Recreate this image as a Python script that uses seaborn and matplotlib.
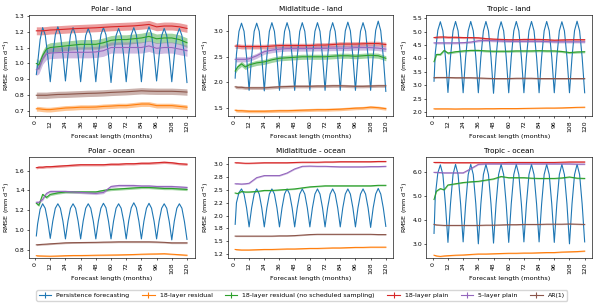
import numpy as np
import pandas as pd
import matplotlib
matplotlib.use("Agg")
import matplotlib.pyplot as plt
from matplotlib.ticker import MultipleLocator, FormatStrFormatter
import seaborn as sns

# x positions
persist_months = np.r_[1, np.arange(2, 121, 2)]
months = [1, 3, 6, 9, 12, 18, 24, 30, 36, 42, 48, 54, 60, 66, 72, 78, 84, 90, 96, 102, 108, 114, 120]

labels = ["Persistence forecasting", "18-layer residual",
          "18-layer residual (no scheduled sampling)", "18-layer plain",
          "5-layer plain", "AR(1)"]
titles = ["Polar - land", "Midlatitude - land", "Tropic - land",
          "Polar - ocean", "Midlatitude - ocean", "Tropic - ocean"]

# persistence forecasting, one list per panel
persist_polar_land = [
    0.93,
    1.00, 1.15, 1.225, 1.18, 1.05, 0.885,
    1.05, 1.18, 1.23, 1.18, 1.055, 0.89,
    1.055, 1.18, 1.225, 1.175, 1.05, 0.885,
    1.05, 1.175, 1.22, 1.175, 1.05, 0.885,
    1.055, 1.18, 1.225, 1.18, 1.05, 0.88,
    1.05, 1.175, 1.22, 1.175, 1.05, 0.885,
    1.055, 1.18, 1.225, 1.18, 1.055, 0.885,
    1.06, 1.185, 1.23, 1.185, 1.055, 0.89,
    1.05, 1.175, 1.22, 1.175, 1.05, 0.885,
    1.05, 1.175, 1.22, 1.175, 1.05, 0.88]
persist_mid_land = [
    2.08,
    2.55, 3.00, 3.16, 3.00, 2.50, 1.84,
    2.50, 3.00, 3.16, 3.00, 2.50, 1.83,
    2.50, 3.00, 3.17, 3.00, 2.50, 1.84,
    2.50, 3.00, 3.17, 3.00, 2.50, 1.84,
    2.50, 3.00, 3.17, 3.00, 2.50, 1.84,
    2.50, 3.00, 3.17, 3.00, 2.50, 1.84,
    2.50, 3.00, 3.17, 3.00, 2.50, 1.84,
    2.50, 3.01, 3.18, 3.01, 2.50, 1.84,
    2.50, 3.00, 3.17, 3.00, 2.50, 1.84,
    2.51, 3.02, 3.20, 3.01, 2.50, 1.82]
persist_tropic_land = [
    3.15,
    4.20, 5.05, 5.37, 5.03, 4.05, 2.73,
    4.05, 5.03, 5.38, 5.03, 4.05, 2.72,
    4.05, 5.03, 5.38, 5.03, 4.05, 2.72,
    4.05, 5.03, 5.38, 5.03, 4.05, 2.70,
    4.05, 5.03, 5.37, 5.03, 4.05, 2.72,
    4.05, 5.03, 5.38, 5.03, 4.05, 2.72,
    4.05, 5.03, 5.38, 5.03, 4.05, 2.72,
    4.05, 5.03, 5.38, 5.03, 4.05, 2.72,
    4.05, 5.03, 5.37, 5.03, 4.05, 2.72,
    4.05, 5.04, 5.39, 5.03, 4.05, 2.72]
persist_polar_ocean = [
    0.94,
    1.06, 1.21, 1.265, 1.22, 1.09, 0.915,
    1.09, 1.22, 1.265, 1.22, 1.09, 0.91,
    1.09, 1.22, 1.265, 1.22, 1.09, 0.91,
    1.09, 1.22, 1.265, 1.22, 1.09, 0.91,
    1.09, 1.22, 1.27, 1.225, 1.09, 0.91,
    1.09, 1.22, 1.265, 1.22, 1.09, 0.91,
    1.095, 1.225, 1.275, 1.225, 1.09, 0.91,
    1.09, 1.22, 1.27, 1.22, 1.09, 0.91,
    1.09, 1.22, 1.265, 1.22, 1.085, 0.90,
    1.09, 1.22, 1.265, 1.22, 1.085, 0.905]
persist_mid_ocean = [
    1.83,
    2.25, 2.45, 2.52, 2.42, 2.15, 1.78,
    2.15, 2.42, 2.52, 2.42, 2.15, 1.78,
    2.15, 2.42, 2.52, 2.42, 2.15, 1.78,
    2.15, 2.42, 2.52, 2.42, 2.15, 1.78,
    2.15, 2.42, 2.52, 2.42, 2.15, 1.78,
    2.15, 2.42, 2.52, 2.42, 2.15, 1.78,
    2.15, 2.42, 2.52, 2.42, 2.15, 1.78,
    2.15, 2.42, 2.52, 2.42, 2.15, 1.78,
    2.15, 2.42, 2.52, 2.42, 2.15, 1.77,
    2.15, 2.42, 2.53, 2.42, 2.15, 1.79]
persist_tropic_ocean = [
    3.45,
    5.00, 5.95, 6.28, 5.88, 4.67, 3.08,
    4.67, 5.88, 6.30, 5.88, 4.67, 3.10,
    4.67, 5.88, 6.30, 5.88, 4.67, 3.02,
    4.67, 5.88, 6.30, 5.88, 4.67, 3.05,
    4.67, 5.88, 6.30, 5.88, 4.67, 3.08,
    4.67, 5.88, 6.30, 5.88, 4.67, 3.10,
    4.67, 5.88, 6.30, 5.88, 4.67, 3.10,
    4.67, 5.88, 6.30, 5.88, 4.67, 3.08,
    4.67, 5.88, 6.30, 5.88, 4.67, 3.02,
    4.67, 5.88, 6.30, 5.88, 4.67, 3.10]

# model curves: orange, green, red, purple, brown
polar_land = [
    [0.715, 0.715, 0.712, 0.71, 0.71, 0.715, 0.72, 0.722, 0.725, 0.725, 0.726, 0.73,
     0.732, 0.735, 0.735, 0.74, 0.745, 0.745, 0.735, 0.735, 0.735, 0.73, 0.725],
    [1.00, 0.99, 1.05, 1.09, 1.10, 1.105, 1.11, 1.115, 1.12, 1.12, 1.12, 1.13,
     1.145, 1.15, 1.15, 1.155, 1.16, 1.17, 1.155, 1.16, 1.16, 1.15, 1.13],
    [1.205, 1.205, 1.205, 1.207, 1.21, 1.212, 1.215, 1.218, 1.22, 1.222, 1.224, 1.227,
     1.23, 1.232, 1.234, 1.236, 1.24, 1.245, 1.23, 1.235, 1.235, 1.23, 1.22],
    [0.96, 0.97, 1.03, 1.06, 1.065, 1.068, 1.07, 1.07, 1.07, 1.07, 1.072, 1.08,
     1.10, 1.10, 1.10, 1.10, 1.10, 1.11, 1.095, 1.10, 1.10, 1.09, 1.08],
    [0.80, 0.80, 0.80, 0.80, 0.802, 0.805, 0.806, 0.808, 0.81, 0.812, 0.813, 0.815,
     0.818, 0.82, 0.822, 0.825, 0.828, 0.826, 0.825, 0.825, 0.825, 0.823, 0.82],
]
mid_land = [
    [1.45, 1.44, 1.44, 1.435, 1.43, 1.43, 1.43, 1.435, 1.44, 1.44, 1.445, 1.45,
     1.455, 1.46, 1.46, 1.465, 1.47, 1.48, 1.49, 1.495, 1.51, 1.50, 1.48],
    [2.22, 2.30, 2.36, 2.30, 2.34, 2.38, 2.40, 2.44, 2.47, 2.48, 2.49, 2.50,
     2.50, 2.50, 2.50, 2.51, 2.52, 2.52, 2.51, 2.52, 2.53, 2.52, 2.47],
    [2.71, 2.71, 2.70, 2.70, 2.70, 2.70, 2.70, 2.71, 2.72, 2.72, 2.72, 2.72,
     2.72, 2.73, 2.73, 2.74, 2.75, 2.75, 2.75, 2.755, 2.76, 2.76, 2.74],
    [2.45, 2.45, 2.45, 2.45, 2.46, 2.52, 2.60, 2.63, 2.65, 2.66, 2.66, 2.66,
     2.66, 2.665, 2.665, 2.67, 2.67, 2.67, 2.68, 2.68, 2.68, 2.67, 2.65],
    [1.91, 1.90, 1.90, 1.89, 1.89, 1.89, 1.89, 1.90, 1.91, 1.915, 1.92, 1.92,
     1.92, 1.925, 1.925, 1.93, 1.93, 1.925, 1.92, 1.92, 1.925, 1.93, 1.93],
]
tropic_land = [
    [2.12, 2.12, 2.12, 2.12, 2.12, 2.115, 2.12, 2.12, 2.12, 2.125, 2.125, 2.13,
     2.13, 2.13, 2.135, 2.14, 2.145, 2.15, 2.15, 2.155, 2.165, 2.175, 2.18],
    [3.88, 4.15, 4.15, 4.30, 4.20, 4.25, 4.28, 4.30, 4.30, 4.28, 4.27, 4.27,
     4.27, 4.28, 4.28, 4.28, 4.29, 4.28, 4.28, 4.26, 4.22, 4.24, 4.25],
    [4.78, 4.79, 4.80, 4.80, 4.79, 4.79, 4.78, 4.78, 4.77, 4.74, 4.72, 4.71,
     4.70, 4.70, 4.71, 4.71, 4.71, 4.70, 4.68, 4.69, 4.70, 4.70, 4.70],
    [4.58, 4.58, 4.58, 4.58, 4.58, 4.58, 4.59, 4.61, 4.66, 4.67, 4.66, 4.65,
     4.64, 4.64, 4.64, 4.64, 4.64, 4.63, 4.62, 4.62, 4.62, 4.62, 4.62],
    [3.28, 3.29, 3.29, 3.29, 3.29, 3.28, 3.28, 3.28, 3.27, 3.26, 3.25, 3.25,
     3.25, 3.26, 3.26, 3.26, 3.25, 3.25, 3.25, 3.25, 3.25, 3.25, 3.25],
]
polar_ocean = [
    [0.74, 0.738, 0.737, 0.736, 0.735, 0.737, 0.74, 0.742, 0.742, 0.743, 0.745, 0.746,
     0.747, 0.748, 0.75, 0.752, 0.755, 0.757, 0.758, 0.76, 0.755, 0.75, 0.745],
    [1.27, 1.25, 1.36, 1.33, 1.36, 1.375, 1.385, 1.385, 1.385, 1.385, 1.385, 1.40,
     1.41, 1.415, 1.42, 1.425, 1.43, 1.43, 1.425, 1.42, 1.42, 1.415, 1.41],
    [1.63, 1.635, 1.635, 1.64, 1.64, 1.645, 1.65, 1.655, 1.66, 1.66, 1.66, 1.66,
     1.665, 1.665, 1.67, 1.67, 1.675, 1.675, 1.68, 1.685, 1.68, 1.67, 1.665],
    [1.28, 1.28, 1.31, 1.37, 1.39, 1.39, 1.39, 1.385, 1.38, 1.375, 1.37, 1.38,
     1.44, 1.45, 1.45, 1.45, 1.445, 1.445, 1.44, 1.44, 1.44, 1.435, 1.43],
    [0.85, 0.852, 0.855, 0.857, 0.86, 0.865, 0.87, 0.872, 0.873, 0.874, 0.875, 0.877,
     0.878, 0.88, 0.88, 0.88, 0.88, 0.88, 0.878, 0.875, 0.87, 0.87, 0.87],
]
mid_ocean = [
    [1.34, 1.335, 1.33, 1.33, 1.33, 1.335, 1.34, 1.34, 1.345, 1.35, 1.35, 1.355,
     1.36, 1.36, 1.365, 1.37, 1.37, 1.375, 1.38, 1.38, 1.385, 1.385, 1.385],
    [2.44, 2.43, 2.47, 2.46, 2.46, 2.47, 2.49, 2.49, 2.50, 2.51, 2.52, 2.54,
     2.56, 2.57, 2.58, 2.58, 2.58, 2.58, 2.58, 2.58, 2.58, 2.59, 2.59],
    [3.03, 3.03, 3.025, 3.02, 3.02, 3.025, 3.03, 3.03, 3.03, 3.03, 3.035, 3.04,
     3.04, 3.04, 3.045, 3.045, 3.05, 3.05, 3.05, 3.05, 3.05, 3.055, 3.055],
    [2.62, 2.62, 2.615, 2.62, 2.63, 2.74, 2.78, 2.78, 2.78, 2.83, 2.91, 2.96,
     2.965, 2.96, 2.96, 2.955, 2.95, 2.95, 2.95, 2.95, 2.955, 2.955, 2.96],
    [1.60, 1.60, 1.60, 1.60, 1.60, 1.60, 1.60, 1.60, 1.605, 1.605, 1.61, 1.62,
     1.63, 1.635, 1.635, 1.635, 1.635, 1.635, 1.635, 1.635, 1.635, 1.63, 1.63],
]
tropic_ocean = [
    [2.55, 2.52, 2.50, 2.52, 2.53, 2.55, 2.56, 2.58, 2.60, 2.60, 2.61, 2.62,
     2.63, 2.63, 2.64, 2.64, 2.65, 2.66, 2.66, 2.68, 2.69, 2.70, 2.72],
    [4.85, 5.20, 5.30, 5.25, 5.45, 5.50, 5.55, 5.58, 5.60, 5.65, 5.70, 5.80,
     5.75, 5.75, 5.75, 5.73, 5.72, 5.72, 5.72, 5.74, 5.78, 5.73, 5.72],
    [6.38, 6.38, 6.38, 6.37, 6.37, 6.37, 6.37, 6.37, 6.37, 6.37, 6.37, 6.37,
     6.38, 6.38, 6.38, 6.38, 6.38, 6.38, 6.38, 6.39, 6.40, 6.40, 6.40],
    [5.97, 5.97, 5.96, 5.95, 5.95, 5.95, 5.95, 6.12, 6.30, 6.32, 6.32, 6.32,
     6.32, 6.32, 6.32, 6.32, 6.32, 6.32, 6.32, 6.32, 6.32, 6.31, 6.31],
    [3.82, 3.80, 3.79, 3.78, 3.78, 3.78, 3.78, 3.78, 3.78, 3.79, 3.79, 3.80,
     3.81, 3.81, 3.82, 3.82, 3.82, 3.83, 3.83, 3.83, 3.84, 3.83, 3.82],
]

# half width of the spread, orange/green/red/purple/brown
spread = [
    [0.015, 0.03, 0.025, 0.035, 0.02],
    [0.03, 0.05, 0.045, 0.05, 0.03],
    [0.02, 0.04, 0.04, 0.04, 0.03],
    [0.006, 0.012, 0.012, 0.012, 0.008],
    [0.01, 0.012, 0.012, 0.012, 0.01],
    [0.02, 0.025, 0.025, 0.025, 0.02],
]

persists = [persist_polar_land, persist_mid_land, persist_tropic_land,
            persist_polar_ocean, persist_mid_ocean, persist_tropic_ocean]
models = [polar_land, mid_land, tropic_land, polar_ocean, mid_ocean, tropic_ocean]
ylims = [(0.671, 1.304), (1.34, 3.32), (1.86, 5.62),
         (0.718, 1.737), (1.176, 3.14), (2.44, 6.6)]
ysteps = [0.1, 0.5, 0.5, 0.2, 0.25, 1.0]

plt.rcParams.update({
    "font.size": 4.6,
    "axes.titlesize": 5.2,
    "axes.labelsize": 4.6,
    "xtick.labelsize": 4.4,
    "ytick.labelsize": 4.4,
    "axes.linewidth": 0.45,
    "xtick.major.size": 1.6,
    "ytick.major.size": 1.6,
    "xtick.major.width": 0.45,
    "ytick.major.width": 0.45,
    "xtick.major.pad": 1.5,
    "ytick.major.pad": 1.5,
    "axes.titlepad": 3.0,
    "axes.labelpad": 1.8,
    "legend.fontsize": 4.5,
})

series_colors = sns.color_palette("tab10")[:6]

fig, axes = plt.subplots(2, 3, figsize=(6.0, 3.07), dpi=100)
fig.subplots_adjust(left=0.048, right=0.987, bottom=0.16, top=0.951,
                    wspace=0.2, hspace=0.41)

for i, ax in enumerate(axes.flat):
    # spread bands underneath
    for j, vals in enumerate(models[i]):
        vals = np.array(vals)
        e = spread[i][j]
        ax.fill_between(months, vals - e, vals + e, color=series_colors[j + 1],
                        alpha=0.45, lw=0, zorder=1)

    df = pd.DataFrame({"month": persist_months, "rmse": persists[i]})
    sns.lineplot(data=df, x="month", y="rmse", color=series_colors[0],
                 lw=0.8, estimator=None, ax=ax, zorder=2)
    for j, vals in enumerate(models[i]):
        df = pd.DataFrame({"month": months, "rmse": vals})
        sns.lineplot(data=df, x="month", y="rmse", color=series_colors[j + 1],
                     lw=0.8, estimator=None, ax=ax, zorder=2)

    ax.set_title(titles[i])
    ax.set_xlim(-4.95, 125.95)
    ax.set_ylim(*ylims[i])
    ax.set_xticks(range(0, 121, 12))
    ax.tick_params(axis="x", labelrotation=90)
    ax.yaxis.set_major_locator(MultipleLocator(ysteps[i]))
    ax.yaxis.set_major_formatter(FormatStrFormatter("%.1f"))
    ax.set_xlabel("Forecast length (months)")
    ax.set_ylabel("RMSE (mm d$^{-1}$)")

# errorbar style legend handles
handles = []
for k, lab in enumerate(labels):
    h = axes[0, 0].errorbar([], [], yerr=[], color=series_colors[k], lw=0.8,
                            elinewidth=0.8, label=lab)
    handles.append(h)

fig.legend(handles, labels, loc="center", bbox_to_anchor=(0.503, 0.0375),
           ncol=6, frameon=True, handlelength=2.0, columnspacing=2.0,
           borderpad=0.4, handletextpad=0.8)

fig.savefig("out.png", dpi=100)
